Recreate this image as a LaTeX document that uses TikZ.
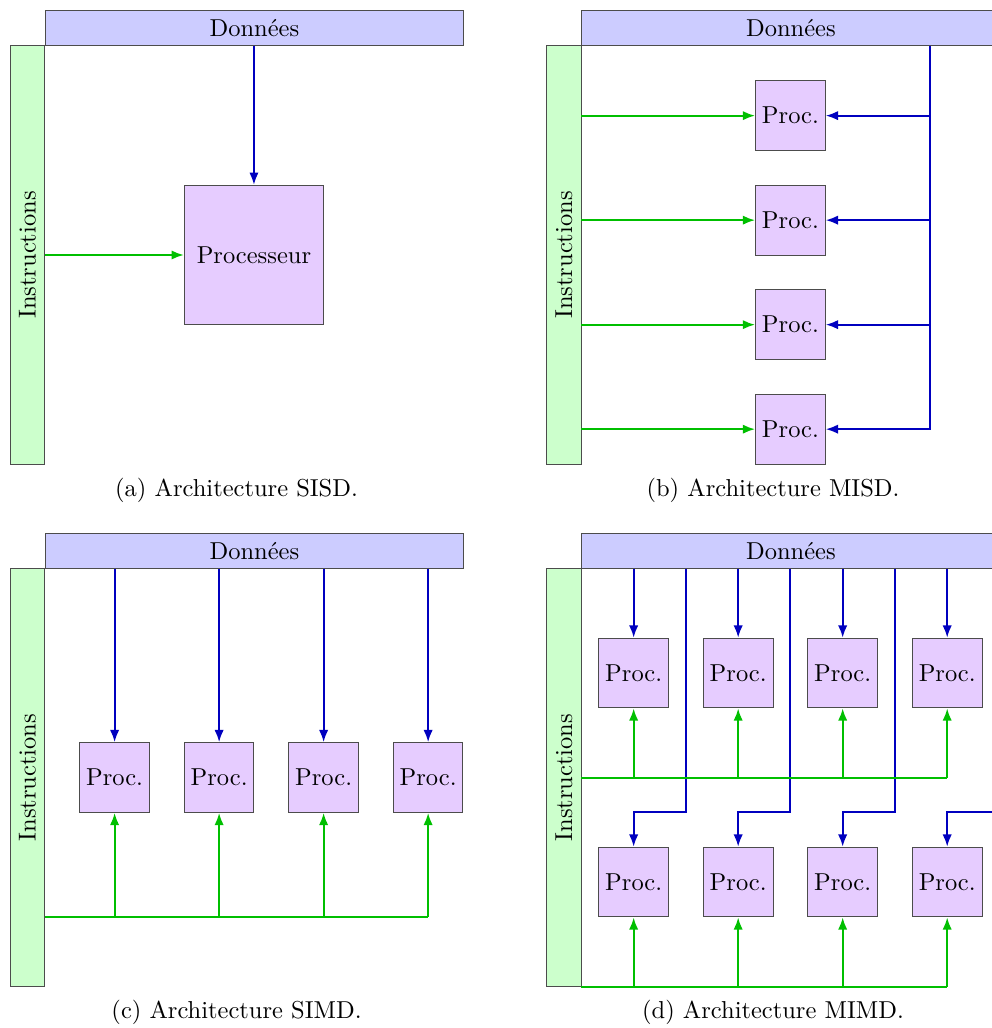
\documentclass[tikz,border=0pt]{standalone}
\usepackage{fontspec}
\usepackage{tikz}
\usetikzlibrary{arrows.meta, positioning, calc}
\definecolor{procfill}{RGB}{230,204,255}

\begin{document}
\begin{tikzpicture}[x=0.5cm, y=0.5cm,
    databar/.style={draw=black!70, fill=blue!20, minimum width=6cm,
                    minimum height=0.5cm, inner sep=0pt, anchor=south west},
    instrbar/.style={draw=black!70, fill=green!20, minimum width=6cm,
                     minimum height=0.5cm, inner sep=0pt, rotate=90},
    proc/.style={draw=black!70, fill=procfill, minimum size=1cm, inner sep=0pt},
    dataflow/.style={blue!75!black, thick},
    instrflow/.style={green!75!black, thick},
    feed/.style={-{Latex[length=5pt, width=3.8pt]}}]
  \useasboundingbox (-1.29,1.32) rectangle (27.16,-28.19);

  % (a) SISD
  \begin{scope}
    \node[databar] (data-a) at (0,0) {Données};
    \node[instrbar] (instr-a) at (-0.5,-6) {Instructions};
    \node[proc, minimum size=2cm] (proc-a) at (6,-6) {Processeur};
    \draw[dataflow, feed] (data-a.south -| proc-a) -- (proc-a);
    \draw[instrflow, feed] (proc-a -| data-a.south west) -- (proc-a);
    \node (cap-a) at (5.5,-12.75) {(a) Architecture SISD.};
  \end{scope}

  % (b) MISD
  \begin{scope}[shift={(15.4,0)}]
    \node[databar] (data-b) at (0,0) {Données};
    \node[instrbar] (instr-b) at (-0.5,-6) {Instructions};
    \coordinate (bus-b) at (10,-11);
    \foreach \i/\y in {1/-2, 2/-5, 3/-8, 4/-11} {
      \node[proc] (b\i) at (6,\y) {Proc.};
      \draw[instrflow, feed] (b\i -| data-b.south west) -- (b\i);
    }
    \foreach \i in {1,2,3}
      \draw[dataflow, feed] (b\i -| bus-b) -- (b\i);
    \draw[dataflow, feed] (data-b.south -| bus-b) |- (b4);
    \node (cap-b) at (5.5,-12.75) {(b) Architecture MISD.};
  \end{scope}

  % (c) SIMD
  \begin{scope}[shift={(0,-15)}]
    \node[databar] (data-c) at (0,0) {Données};
    \node[instrbar] (instr-c) at (-0.5,-6) {Instructions};
    \coordinate (bus-c) at (0,-10);
    \foreach \i in {1,...,4} {
      \node[proc] (c\i) at (3*\i-1,-6) {Proc.};
      \draw[dataflow, feed] (data-c.south -| c\i) -- (c\i);
      \draw[instrflow, feed] (bus-c -| c\i) -- (c\i);
    }
    \draw[instrflow] (bus-c) -- (bus-c -| c4);
    \node (cap-c) at (5.5,-12.75) {(c) Architecture SIMD.};
  \end{scope}

  % (d) MIMD
  \begin{scope}[shift={(15.4,-15)}]
    \node[databar] (data-d) at (0,0) {Données};
    \node[instrbar] (instr-d) at (-0.5,-6) {Instructions};
    \coordinate (bus-d1) at (0,-6);
    \coordinate (bus-d2) at (0,-12);
    \foreach \i in {1,...,4} {
      \node[proc] (dt\i) at (3*\i-1.5,-3) {Proc.};
      \node[proc] (db\i) at (3*\i-1.5,-9) {Proc.};
      \coordinate (k\i) at (3*\i,-7);
      \draw[dataflow, feed] (data-d.south -| dt\i) -- (dt\i);
      \draw[dataflow, feed] (data-d.south -| k\i) -- (k\i) -| (db\i);
    }
    \draw[instrflow] (bus-d1) -- (bus-d1 -| dt4);
    \draw[instrflow] (bus-d2) -- (bus-d2 -| db4);
    \foreach \i in {1,...,4} {
      \draw[instrflow, feed] (bus-d1 -| dt\i) -- (dt\i);
      \draw[instrflow, feed] (bus-d2 -| db\i) -- (db\i);
    }
    \node (cap-d) at (5.5,-12.75) {(d) Architecture MIMD.};
  \end{scope}
\end{tikzpicture}
\end{document}
